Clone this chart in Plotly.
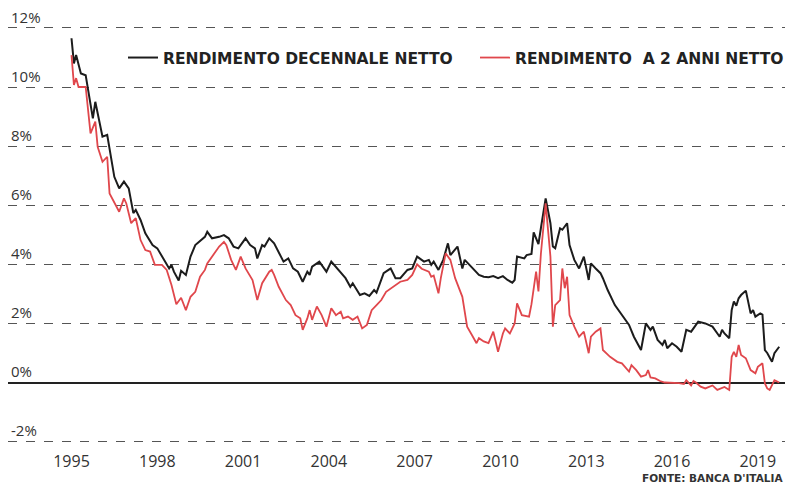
import plotly.graph_objects as go

# rendimento decennale netto (monthly readings)
dates_10y = [
    "1995-01", "1995-02", "1995-03", "1995-04", "1995-05", "1995-07", "1995-08", "1995-10", "1995-11",
    "1996-01", "1996-02", "1996-04", "1996-06", "1996-07", "1996-09", "1996-11",
    "1997-01", "1997-03", "1997-04", "1997-06", "1997-08", "1997-11",
    "1998-01", "1998-03", "1998-06", "1998-07", "1998-08", "1998-10", "1998-11",
    "1999-01", "1999-03", "1999-05", "1999-08", "1999-09", "1999-10", "1999-12",
    "2000-03", "2000-05", "2000-07", "2000-09", "2000-11",
    "2001-02", "2001-04", "2001-06", "2001-07", "2001-09", "2001-10", "2001-12",
    "2002-02", "2002-04", "2002-06", "2002-08", "2002-10", "2002-12",
    "2003-02", "2003-04", "2003-05", "2003-06", "2003-09", "2003-11", "2003-12",
    "2004-02", "2004-05", "2004-08", "2004-10", "2004-11",
    "2005-02", "2005-04", "2005-06", "2005-08", "2005-09", "2005-10", "2005-12",
    "2006-02", "2006-03", "2006-05", "2006-07", "2006-10", "2006-12",
    "2007-02", "2007-05", "2007-07", "2007-08", "2007-09", "2007-11",
    "2008-01", "2008-03", "2008-04", "2008-07", "2008-09", "2008-10", "2008-12",
    "2009-02", "2009-04", "2009-06", "2009-08", "2009-10", "2009-12",
    "2010-02", "2010-04", "2010-06", "2010-07", "2010-08", "2010-11", "2010-12",
    "2011-02", "2011-03", "2011-05", "2011-06", "2011-08", "2011-10", "2011-11", "2011-12",
    "2012-02", "2012-03", "2012-05", "2012-06", "2012-08", "2012-10", "2012-12",
    "2013-02", "2013-03", "2013-05", "2013-07", "2013-08", "2013-10",
    "2014-01", "2014-04", "2014-07", "2014-09", "2014-12",
    "2015-02", "2015-04", "2015-05", "2015-07", "2015-09", "2015-10", "2015-11",
    "2016-01", "2016-03", "2016-05", "2016-07", "2016-09", "2016-12",
    "2017-03", "2017-06", "2017-08", "2017-09", "2017-10", "2017-11",
    "2018-01", "2018-02", "2018-03", "2018-04", "2018-05", "2018-06", "2018-08", "2018-09",
    "2018-10", "2018-11", "2018-12",
    "2019-02", "2019-03", "2019-04", "2019-05", "2019-07", "2019-08", "2019-10",
]
rend_10y = [
    11.65, 10.8, 11.08, 10.75, 10.46, 10.4, 9.9, 8.94, 9.5,
    8.66, 8.32, 8.38, 7.42, 6.96, 6.57, 6.8,
    6.57, 5.73, 5.84, 5.5, 5.05, 4.65,
    4.54, 4.26, 3.86, 3.98, 3.75, 3.45, 3.78,
    3.64, 4.26, 4.65, 4.88, 4.93, 5.1, 4.88,
    4.93, 4.99, 4.88, 4.6, 4.54,
    4.88, 4.65, 4.54, 4.2, 4.65, 4.6, 4.88,
    4.71, 4.43, 4.09, 4.2, 3.86, 3.75,
    3.41, 3.75, 3.64, 3.92, 4.09, 3.86, 3.75,
    4.09, 3.81, 3.53, 3.24, 3.36,
    2.96, 3.02, 2.93, 3.13, 3.04, 3.24, 3.7,
    3.81, 3.86, 3.53, 3.53, 3.81, 3.86,
    4.26, 4.09, 4.15, 3.98, 4.09, 3.81,
    4.15, 4.71, 4.31, 4.6, 3.86, 4.15, 3.98,
    3.81, 3.64, 3.58, 3.56, 3.6, 3.53,
    3.6, 3.47, 3.38, 3.47, 4.26, 4.2, 4.31,
    4.35, 5.08, 4.68, 5.22, 6.23, 5.39, 4.6, 4.54,
    5.22, 5.17, 5.39, 4.65, 4.15, 3.86, 4.26,
    3.47, 4.03, 3.86, 3.7, 3.53, 3.13,
    2.62, 2.28, 1.95, 1.55, 1.1,
    2.0, 1.78, 1.89, 1.44, 1.27, 1.44, 1.16,
    1.33, 1.21, 1.04, 1.78, 1.72, 2.06,
    2.0, 1.89, 1.66, 1.55, 1.78, 1.66,
    1.5, 2.45, 2.74, 2.6, 2.85, 2.96, 3.11, 2.68,
    2.34, 2.45, 2.23,
    2.34, 2.3, 1.1, 1.0, 0.7, 0.99, 1.21,
]

# rendimento a 2 anni netto (monthly readings)
dates_2y = [
    "1995-01", "1995-02", "1995-03", "1995-04", "1995-07", "1995-09", "1995-11", "1995-12",
    "1996-02", "1996-04", "1996-05", "1996-09", "1996-11", "1996-12",
    "1997-02", "1997-04", "1997-06", "1997-08", "1997-10", "1997-12",
    "1998-03", "1998-05", "1998-07", "1998-09", "1998-11",
    "1999-01", "1999-03", "1999-05", "1999-07", "1999-09", "1999-10", "1999-12",
    "2000-03", "2000-05", "2000-06", "2000-08", "2000-10", "2000-12",
    "2001-02", "2001-05", "2001-07", "2001-09", "2001-12",
    "2002-01", "2002-02", "2002-04", "2002-07", "2002-09", "2002-11",
    "2003-01", "2003-02", "2003-04", "2003-05", "2003-06", "2003-08", "2003-10", "2003-12",
    "2004-02", "2004-04", "2004-06", "2004-07", "2004-09", "2004-11",
    "2005-01", "2005-03", "2005-05", "2005-07", "2005-09", "2005-11",
    "2006-01", "2006-03", "2006-05", "2006-07", "2006-10", "2006-12",
    "2007-02", "2007-04", "2007-07", "2007-08", "2007-09", "2007-11", "2007-12",
    "2008-02", "2008-04", "2008-06", "2008-09", "2008-10", "2008-11",
    "2009-01", "2009-03", "2009-04", "2009-06", "2009-08", "2009-10", "2009-11", "2009-12",
    "2010-02", "2010-03", "2010-05", "2010-07", "2010-08", "2010-10",
    "2011-01", "2011-02", "2011-04", "2011-05", "2011-06", "2011-08", "2011-10", "2011-11", "2011-12",
    "2012-02", "2012-03", "2012-04", "2012-05", "2012-06", "2012-08", "2012-10", "2012-12",
    "2013-02", "2013-03", "2013-05", "2013-07", "2013-08", "2013-11",
    "2014-02", "2014-04", "2014-07", "2014-08", "2014-10", "2014-12",
    "2015-02", "2015-03", "2015-04", "2015-06", "2015-08", "2015-10",
    "2016-01", "2016-04", "2016-06", "2016-07", "2016-09", "2016-10", "2016-11",
    "2017-01", "2017-03", "2017-06", "2017-08", "2017-10", "2017-11",
    "2018-01", "2018-02", "2018-03", "2018-04", "2018-05", "2018-06", "2018-08", "2018-10", "2018-12",
    "2019-01", "2019-03", "2019-04", "2019-05", "2019-06", "2019-08", "2019-10",
]
rend_2y = [
    11.08, 10.07, 10.3, 10.0, 10.0, 8.43, 8.83, 7.98,
    7.47, 7.64, 6.4, 5.78, 6.23, 6.06,
    5.39, 5.56, 4.82, 4.48, 4.43, 3.98,
    3.98, 3.81, 3.3, 2.65, 2.87,
    2.45, 2.9, 3.07, 3.58, 3.81, 4.03, 4.26,
    4.6, 4.76, 4.65, 4.15, 3.81, 4.26,
    3.86, 3.47, 2.79, 3.36, 3.75,
    3.81, 3.64, 3.24, 2.79, 2.62, 2.28,
    2.17, 1.78, 2.17, 2.45, 2.12, 2.57, 2.28, 1.89,
    2.51, 2.28, 2.4, 2.17, 2.23, 2.12,
    2.23, 1.83, 1.95, 2.45, 2.62, 2.79,
    3.07, 3.19, 3.3, 3.41, 3.47, 3.64,
    4.0, 3.85, 3.75, 3.58, 3.62, 3.02, 3.53,
    4.37, 4.15, 3.53, 2.9, 2.4, 1.89,
    1.61, 1.33, 1.5, 1.39, 1.33, 1.72, 1.38, 1.04,
    1.66, 1.83, 1.66, 2.0, 2.68, 2.28,
    2.23, 2.65, 3.75, 3.08, 4.35, 6.06, 4.26, 1.89, 2.62,
    2.79, 3.86, 3.19, 3.58, 2.28, 1.89, 1.55, 1.72,
    0.99, 1.55, 1.72, 1.83, 1.1, 0.87,
    0.7, 0.65, 0.37, 0.59, 0.42, 0.2,
    0.25, 0.42, 0.17, 0.14, 0.05, 0.0,
    0.0, -0.02, -0.05, 0.08, -0.1, 0.05, 0.0,
    -0.14, -0.2, -0.1, -0.25, -0.2, -0.15,
    -0.25, 0.87, 1.04, 0.87, 1.27, 0.93, 0.82, 0.42, 0.31,
    0.53, 0.65, -0.03, -0.2, -0.25, 0.08, 0.0,
]

year_ticks = ["1995", "1998", "2001", "2004", "2007", "2010", "2013", "2016", "2019"]
pct_ticks = [-2, 0, 2, 4, 6, 8, 10, 12]
pct_labels = ["-2%", "0%", "2%", "4%", "6%", "8%", "10%", "12%"]

BLACK = "#1c1c1c"
RED = "#e0474c"

fig = go.Figure()
fig.add_trace(go.Scatter(x=dates_10y, y=rend_10y, mode="lines",
                         name="RENDIMENTO DECENNALE NETTO", showlegend=True,
                         line=dict(color=BLACK, width=2), legend="legend"))
fig.add_trace(go.Scatter(x=dates_2y, y=rend_2y, mode="lines",
                         name="RENDIMENTO\u00a0 A 2 ANNI NETTO", showlegend=True,
                         line=dict(color=RED, width=1.8), legend="legend2"))

legend_font = dict(family="DejaVu Sans", size=15.5, color="#222222", weight="bold")

fig.update_layout(
    width=785, height=486,
    showlegend=True,
    margin=dict(l=8, r=0, t=10, b=36, autoexpand=False),
    paper_bgcolor="white", plot_bgcolor="white",
    font=dict(family="Open Sans", color="#333333"),
    legend=dict(orientation="h", x=0.148, y=0.891, xanchor="left", yanchor="middle",
                font=legend_font, bgcolor="rgba(0,0,0,0)", itemwidth=30, visible=True),
    legend2=dict(orientation="h", x=0.601, y=0.891, xanchor="left", yanchor="middle",
                 font=legend_font, bgcolor="rgba(0,0,0,0)", itemwidth=30, visible=True),
    annotations=[dict(text="FONTE: BANCA D'ITALIA", xref="paper", yref="paper",
                      x=0.813, y=-0.064, xanchor="left", yanchor="middle", showarrow=False,
                      font=dict(family="DejaVu Sans", size=10.5, color="#333333", weight="bold"))],
)

fig.update_xaxes(
    type="date", range=["1992-10-12", "2019-12-14"],
    tickvals=[y + "-01-01" for y in year_ticks], ticktext=year_ticks,
    showgrid=False, zeroline=False, showline=False, ticks="",
    tickfont=dict(size=16, color="#333333"),
)
fig.update_yaxes(
    range=[-2.284, 12.606],
    tickvals=pct_ticks, ticktext=pct_labels,
    ticklabelposition="inside top", ticklabeloverflow="allow",
    showgrid=True, gridcolor="#555555", gridwidth=1, griddash="dash",
    zeroline=True, zerolinecolor="#222222", zerolinewidth=1.5,
    showline=False, ticks="",
    tickfont=dict(size=15, color="#333333"),
)

# page without the browser's default body margin, no toolbar
fig.write_html("out.html", config={"displayModeBar": False},
               post_script="document.body.style.margin='0';")
